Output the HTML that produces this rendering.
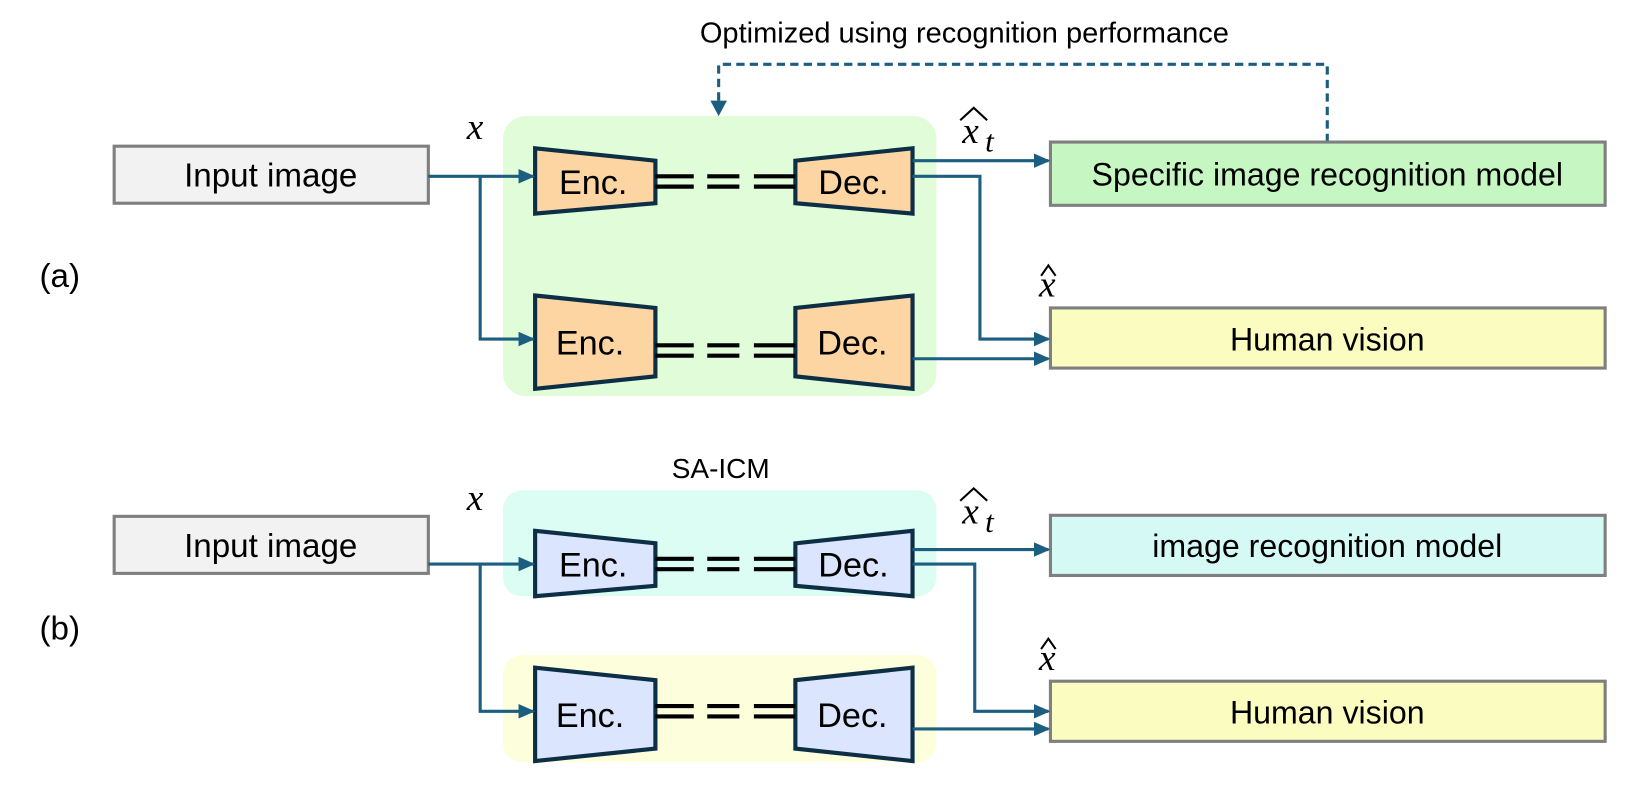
<!DOCTYPE html>
<html><head><style>body{margin:0;background:#fff}</style></head><body>
<svg width="1626" height="788" viewBox="0 0 1568 760" xmlns="http://www.w3.org/2000/svg" font-family="Liberation Sans, sans-serif">
<defs><marker id="a2" markerWidth="16" markerHeight="14" refX="14" refY="7" orient="auto" markerUnits="userSpaceOnUse"><path d="M0,0 L16,7 L0,14z" fill="#1b5e80"/></marker></defs>
<text x="930" y="41" font-size="28" text-anchor="middle">Optimized using recognition performance</text>
<path d="M1280,137 V62 H693 V100" fill="none" stroke="#1b5e80" stroke-width="3" stroke-dasharray="8,5"/>
<path d="M685,97 L701,97 L693,112z" fill="#1b5e80"/>
<!-- (a) -->
<rect x="485" y="112" width="418" height="270" rx="22" fill="#e0fcd9"/>
<rect x="110" y="141" width="303" height="55" fill="#f2f2f2" stroke="#7f7f7f" stroke-width="3"/>
<text x="261" y="180" font-size="32" text-anchor="middle">Input image</text>
<rect x="1013" y="137" width="535" height="61" fill="#c6f7c2" stroke="#7f7f7f" stroke-width="3"/>
<text x="1280" y="179" font-size="31" text-anchor="middle">Specific image recognition model</text>
<rect x="1013" y="297" width="535" height="58" fill="#fbfcc0" stroke="#7f7f7f" stroke-width="3"/>
<text x="1280" y="338" font-size="31" text-anchor="middle">Human vision</text>
<text x="38" y="277" font-size="32">(a)</text>
<text x="450" y="134" font-size="36" font-style="italic" font-family="Liberation Serif, serif">x</text>
<text x="928" y="138" font-size="36" font-style="italic" font-family="Liberation Serif, serif">x</text><text x="950" y="146" font-size="30" font-style="italic" font-family="Liberation Serif, serif">t</text><path d="M926,116 L939,104 L952,116" fill="none" stroke="#000" stroke-width="2"/>
<text x="1002" y="286" font-size="36" font-style="italic" font-family="Liberation Serif, serif">x</text><path d="M1004,266 L1011,256 L1018,266" fill="none" stroke="#000" stroke-width="2"/>
<g stroke="#0d2f45" stroke-width="4" fill="#fdd5a3">
<path d="M516,143 L632,155 L632,196 L516,206z"/><path d="M880,143 L767,155 L767,196 L880,206z"/>
<path d="M516,285 L632,297 L632,363 L516,375z"/><path d="M880,285 L767,297 L767,363 L880,375z"/>
</g>
<g font-size="33" text-anchor="middle"><text x="572" y="187">Enc.</text><text x="823" y="187">Dec.</text><text x="569" y="342">Enc.</text><text x="822" y="342">Dec.</text></g>
<g stroke="#000" stroke-width="4"><path d="M632,170 H669 M632,180 H669 M682,170 H713 M682,180 H713 M727,170 H767 M727,180 H767"/>
<path d="M632,333 H669 M632,343 H669 M682,333 H713 M682,343 H713 M727,333 H767 M727,343 H767"/></g>
<g fill="none" stroke="#1b5e80" stroke-width="3">
<path d="M413,170 H514" marker-end="url(#a2)"/><path d="M463,170 V327 H514" marker-end="url(#a2)"/>
<path d="M880,155 H1011" marker-end="url(#a2)"/><path d="M880,170 H945 V327 H1011" marker-end="url(#a2)"/><path d="M880,346 H1011" marker-end="url(#a2)"/>
</g>
<!-- (b) -->
<text x="695" y="461" font-size="27" text-anchor="middle">SA-ICM</text>
<rect x="485" y="473" width="418" height="102" rx="18" fill="#dbfdf3"/>
<rect x="485" y="632" width="418" height="103" rx="18" fill="#fdfedc"/>
<rect x="110" y="498" width="303" height="55" fill="#f2f2f2" stroke="#7f7f7f" stroke-width="3"/>
<text x="261" y="537" font-size="32" text-anchor="middle">Input image</text>
<rect x="1013" y="497" width="535" height="58" fill="#d5faf6" stroke="#7f7f7f" stroke-width="3"/>
<text x="1280" y="537" font-size="31" text-anchor="middle">image recognition model</text>
<rect x="1013" y="657" width="535" height="58" fill="#fbfcc0" stroke="#7f7f7f" stroke-width="3"/>
<text x="1280" y="698" font-size="31" text-anchor="middle">Human vision</text>
<text x="38" y="617" font-size="32">(b)</text>
<text x="450" y="492" font-size="36" font-style="italic" font-family="Liberation Serif, serif">x</text>
<text x="928" y="505" font-size="36" font-style="italic" font-family="Liberation Serif, serif">x</text><text x="950" y="513" font-size="30" font-style="italic" font-family="Liberation Serif, serif">t</text><path d="M926,483 L939,471 L952,483" fill="none" stroke="#000" stroke-width="2"/>
<text x="1002" y="646" font-size="36" font-style="italic" font-family="Liberation Serif, serif">x</text><path d="M1004,626 L1011,616 L1018,626" fill="none" stroke="#000" stroke-width="2"/>
<g stroke="#0d2f45" stroke-width="4" fill="#dbe5fd">
<path d="M516,512 L632,524 L632,565 L516,575z"/><path d="M880,512 L767,524 L767,565 L880,575z"/>
<path d="M516,644 L632,656 L632,722 L516,734z"/><path d="M880,644 L767,656 L767,722 L880,734z"/>
</g>
<g font-size="33" text-anchor="middle"><text x="572" y="556">Enc.</text><text x="823" y="556">Dec.</text><text x="569" y="701">Enc.</text><text x="822" y="701">Dec.</text></g>
<g stroke="#000" stroke-width="4"><path d="M632,539 H669 M632,549 H669 M682,539 H713 M682,549 H713 M727,539 H767 M727,549 H767"/>
<path d="M632,681 H669 M632,691 H669 M682,681 H713 M682,691 H713 M727,681 H767 M727,691 H767"/></g>
<g fill="none" stroke="#1b5e80" stroke-width="3">
<path d="M413,544 H514" marker-end="url(#a2)"/><path d="M463,544 V686 H514" marker-end="url(#a2)"/>
<path d="M880,530 H1011" marker-end="url(#a2)"/><path d="M880,544 H940 V686 H1011" marker-end="url(#a2)"/><path d="M880,703 H1011" marker-end="url(#a2)"/>
</g>
</svg>
</body></html>
